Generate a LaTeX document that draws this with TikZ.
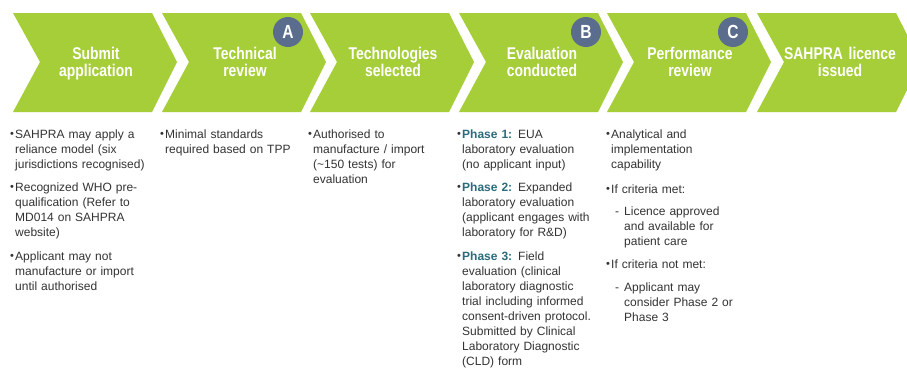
\documentclass[tikz,border=0pt]{standalone}
\usepackage{fontspec}
\setmainfont{Liberation Sans}
\newfontfamily\hdrfont[FakeStretch=0.82]{Liberation Sans Bold}
\newfontfamily\boldfont{Liberation Sans Bold}
\definecolor{stepgreen}{HTML}{A6CE39}
\definecolor{badgeblue}{HTML}{5B6D8C}
\definecolor{bodygray}{HTML}{333333}
\definecolor{phaseteal}{HTML}{2A6C7C}
\newcommand{\bul}{\leavevmode\llap{\makebox[5pt][l]{\raisebox{0.3pt}{\fontsize{11}{11}\selectfont •}}}}
\newcommand{\phase}[1]{{\boldfont\color{phaseteal}#1}}
\newcommand{\dashitem}{\leavevmode\hspace*{4pt}\makebox[9pt][l]{-}}
\newcommand{\dashcont}{\leavevmode\hspace*{13pt}}
\tikzset{
  chev/.style={fill=stepgreen, draw=none},
  hdr/.style={text=white, font={\hdrfont\fontsize{17}{17}\selectfont}, text width=140pt,
    align=center, anchor=base, inner sep=0pt},
  badge/.style={circle, fill=badgeblue, minimum size=30pt, inner sep=0pt, text=white,
    font={\hdrfont\fontsize{19}{19}\selectfont}},
  body/.style={text=bodygray, font={\fontsize{12}{15}\selectfont}, text width=150pt,
    align=left, anchor=base west, inner sep=0pt},
}
\begin{document}
\begin{tikzpicture}[x=1pt, y=-1pt]
  \useasboundingbox (0,0) rectangle (907,367);
  \fill[white] (0,0) rectangle (907,367);
  \clip (0,0) rectangle (907,367);

  % process chevrons with their titles
  \foreach \xo/\ttl [count=\i] in {
      13/{Submit\\application},
      162/{Technical\\review},
      310/{Technologies\\selected},
      459/{Evaluation\\conducted},
      607/{Performance\\review},
      757/{SAHPRA licence\\issued}} {
    \fill[chev] (\xo,13) -- ++(139,0) -- ++(25,49) -- ++(-25,50) -- ++(-139,0)
      -- ++(27,-50) -- cycle;
    \node[hdr] (title\i) at (\xo+83,59) {\ttl};
  }

  % milestone badges
  \node[badge] (badgeA) at (288,32) {A};
  \node[badge] (badgeB) at (586,32) {B};
  \node[badge] (badgeC) at (733,32) {C};

  % notes below each step
  \node[body] (notes1) at (15,138) {%
    \bul SAHPRA may apply a\\ reliance model (six\\ jurisdictions recognised)\\[8pt]
    \bul Recognized WHO pre-\\ qualification (Refer to\\ MD014 on SAHPRA\\ website)\\[9pt]
    \bul Applicant may not\\ manufacture or import\\ until authorised};

  \node[body] (notes2) at (165,138) {%
    \bul Minimal standards\\ required based on TPP};

  \node[body] (notes3) at (313,138) {%
    \bul Authorised to\\ manufacture / import\\ (\textasciitilde150 tests) for\\ evaluation};

  \node[body] (notes4) at (462,138) {%
    \bul\phase{Phase 1:} EUA\\ laboratory evaluation\\ (no applicant input)\\[8pt]
    \bul\phase{Phase 2:} Expanded\\ laboratory evaluation\\ (applicant engages with\\ laboratory for R\&D)\\[9pt]
    \bul\phase{Phase 3:} Field\\ evaluation (clinical\\ laboratory diagnostic\\ trial including informed\\
    consent-driven protocol.\\ Submitted by Clinical\\ Laboratory Diagnostic\\ (CLD) form};

  \node[body] (notes5) at (611,138) {%
    \bul Analytical and\\ implementation\\ capability\\[10pt]
    \bul If criteria met:\\[7pt]
    \dashitem Licence approved\\ \dashcont and available for\\ \dashcont patient care\\[8pt]
    \bul If criteria not met:\\[8pt]
    \dashitem Applicant may\\ \dashcont consider Phase 2 or\\ \dashcont Phase 3};
\end{tikzpicture}
\end{document}
